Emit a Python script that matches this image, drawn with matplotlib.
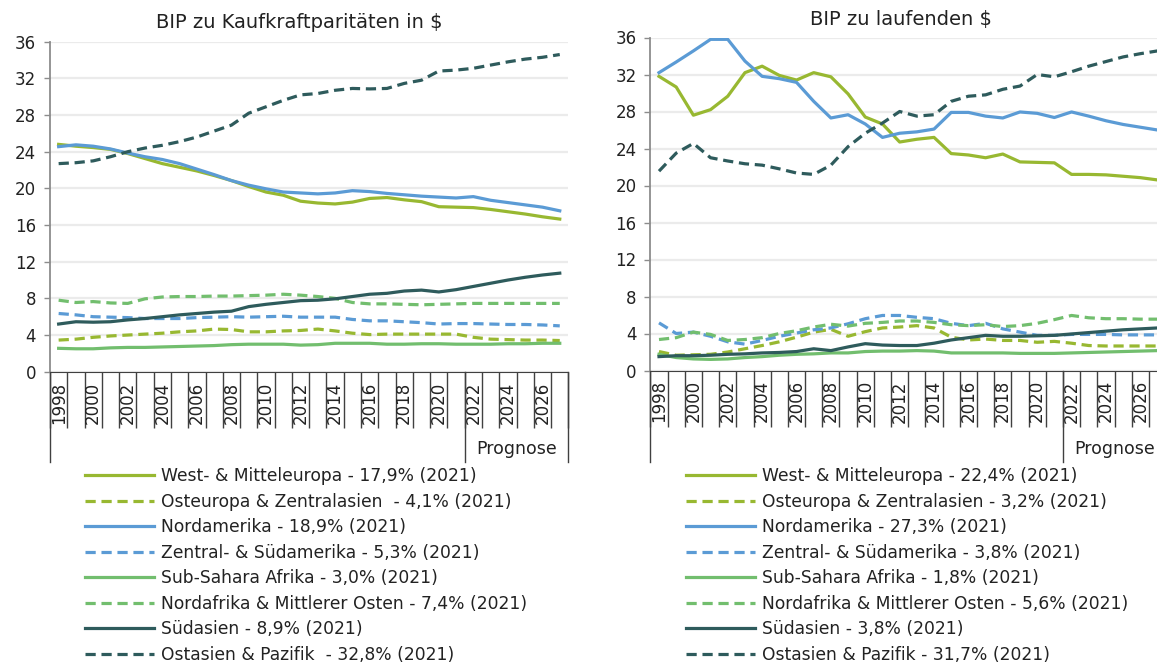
"""GDP shares of world regions: PPP vs. current dollars, 1998-2027."""

import matplotlib.pyplot as plt
from matplotlib.transforms import blended_transform_factory

years = list(range(1998, 2028))
forecast_start = 2022

# BIP zu Kaufkraftparitäten (share of world GDP in %)
ppp_west = [24.8, 24.6, 24.45, 24.25, 23.8, 23.25, 22.7, 22.3, 21.9, 21.4,
            20.85, 20.2, 19.6, 19.25, 18.6, 18.4, 18.3, 18.5, 18.9, 19.0,
            18.75, 18.55, 18.0, 17.95, 17.9, 17.7, 17.45, 17.2, 16.9, 16.65]
ppp_east = [3.45, 3.55, 3.75, 3.9, 4.0, 4.1, 4.2, 4.35, 4.45, 4.65,
            4.6, 4.35, 4.35, 4.45, 4.5, 4.65, 4.45, 4.2, 4.05, 4.1,
            4.1, 4.1, 4.1, 4.1, 3.75, 3.55, 3.5, 3.45, 3.45, 3.4]
ppp_north_am = [24.55, 24.75, 24.6, 24.3, 23.85, 23.45, 23.15, 22.7, 22.1, 21.5,
                20.85, 20.35, 19.95, 19.6, 19.5, 19.4, 19.5, 19.75, 19.65, 19.45,
                19.3, 19.15, 19.05, 18.95, 19.1, 18.7, 18.45, 18.2, 17.95, 17.55]
ppp_latam = [6.35, 6.2, 6.0, 5.95, 5.9, 5.8, 5.8, 5.8, 5.9, 5.95,
             6.0, 5.95, 6.0, 6.05, 5.95, 5.95, 5.95, 5.7, 5.55, 5.55,
             5.45, 5.35, 5.2, 5.25, 5.25, 5.2, 5.15, 5.15, 5.1, 5.0]
ppp_ssa = [2.55, 2.5, 2.5, 2.6, 2.65, 2.65, 2.7, 2.75, 2.8, 2.85,
           2.95, 3.0, 3.0, 3.0, 2.9, 2.95, 3.1, 3.1, 3.1, 3.0,
           3.0, 3.05, 3.05, 3.0, 3.0, 3.0, 3.05, 3.05, 3.1, 3.1]
ppp_mena = [7.8, 7.55, 7.65, 7.5, 7.45, 7.95, 8.15, 8.2, 8.2, 8.25,
            8.25, 8.3, 8.35, 8.45, 8.35, 8.2, 8.0, 7.55, 7.4, 7.4,
            7.35, 7.3, 7.35, 7.4, 7.45, 7.45, 7.45, 7.45, 7.45, 7.45]
ppp_south_asia = [5.2, 5.45, 5.4, 5.45, 5.65, 5.8, 6.0, 6.2, 6.35, 6.5,
                  6.6, 7.1, 7.35, 7.55, 7.75, 7.8, 7.95, 8.2, 8.45, 8.55,
                  8.8, 8.9, 8.7, 8.95, 9.3, 9.65, 10.0, 10.3, 10.55, 10.75]
ppp_east_asia = [22.7, 22.8, 23.0, 23.45, 24.0, 24.4, 24.7, 25.1, 25.6, 26.25,
                 26.9, 28.2, 28.9, 29.6, 30.2, 30.35, 30.7, 30.9, 30.85, 30.9,
                 31.45, 31.8, 32.8, 32.9, 33.1, 33.45, 33.8, 34.1, 34.3, 34.6]

# BIP zu laufenden $ (share of world GDP in %)
cur_west = [31.8, 30.65, 27.6, 28.2, 29.65, 32.2, 32.9, 31.9, 31.4, 32.2,
            31.75, 29.9, 27.4, 26.65, 24.7, 25.0, 25.2, 23.45, 23.3, 23.0,
            23.4, 22.55, 22.5, 22.45, 21.2, 21.2, 21.15, 21.0, 20.85, 20.6]
cur_east = [2.05, 1.65, 1.7, 1.75, 2.0, 2.35, 2.7, 3.1, 3.6, 4.15,
            4.45, 3.7, 4.2, 4.6, 4.7, 4.85, 4.6, 3.6, 3.3, 3.4,
            3.25, 3.25, 3.05, 3.15, 2.95, 2.7, 2.65, 2.65, 2.65, 2.65]
cur_north_am = [32.2, 33.35, 34.55, 35.8, 35.8, 33.45, 31.8, 31.55, 31.15, 29.1,
                27.3, 27.65, 26.65, 25.2, 25.65, 25.8, 26.1, 27.9, 27.9, 27.5,
                27.3, 27.95, 27.8, 27.35, 27.95, 27.5, 27.0, 26.6, 26.3, 26.0]
cur_latam = [5.15, 4.0, 4.15, 3.7, 3.1, 2.85, 3.25, 3.7, 4.05, 4.4,
             4.6, 5.05, 5.6, 5.95, 5.95, 5.75, 5.6, 5.1, 4.85, 5.1,
             4.5, 4.15, 3.8, 3.8, 3.9, 3.9, 3.9, 3.85, 3.85, 3.85]
cur_ssa = [1.75, 1.4, 1.25, 1.2, 1.25, 1.4, 1.5, 1.65, 1.75, 1.8,
           1.9, 1.9, 2.05, 2.1, 2.1, 2.15, 2.1, 1.9, 1.9, 1.9,
           1.9, 1.85, 1.85, 1.85, 1.9, 1.95, 2.0, 2.05, 2.1, 2.15]
cur_mena = [3.35, 3.55, 4.15, 3.9, 3.25, 3.35, 3.55, 4.0, 4.3, 4.7,
            5.0, 4.8, 5.1, 5.2, 5.35, 5.35, 5.2, 4.95, 4.85, 4.95,
            4.75, 4.85, 5.1, 5.5, 5.95, 5.7, 5.6, 5.6, 5.55, 5.55]
cur_south_asia = [1.5, 1.6, 1.6, 1.65, 1.75, 1.8, 1.9, 1.95, 2.05, 2.35,
                  2.15, 2.55, 2.9, 2.75, 2.7, 2.7, 2.95, 3.3, 3.55, 3.8,
                  3.7, 3.7, 3.75, 3.8, 3.95, 4.1, 4.25, 4.4, 4.5, 4.6]
cur_east_asia = [21.55, 23.5, 24.55, 23.0, 22.65, 22.35, 22.2, 21.8, 21.35, 21.2,
                 22.2, 24.2, 25.65, 26.75, 28.0, 27.5, 27.65, 29.1, 29.65, 29.8,
                 30.4, 30.75, 32.0, 31.75, 32.3, 32.9, 33.4, 33.9, 34.25, 34.55]

ppp_labels = [
    "West- & Mitteleuropa - 17,9% (2021)",
    "Osteuropa & Zentralasien  - 4,1% (2021)",
    "Nordamerika - 18,9% (2021)",
    "Zentral- & Südamerika - 5,3% (2021)",
    "Sub-Sahara Afrika - 3,0% (2021)",
    "Nordafrika & Mittlerer Osten - 7,4% (2021)",
    "Südasien - 8,9% (2021)",
    "Ostasien & Pazifik  - 32,8% (2021)",
]
cur_labels = [
    "West- & Mitteleuropa - 22,4% (2021)",
    "Osteuropa & Zentralasien - 3,2% (2021)",
    "Nordamerika - 27,3% (2021)",
    "Zentral- & Südamerika - 3,8% (2021)",
    "Sub-Sahara Afrika - 1,8% (2021)",
    "Nordafrika & Mittlerer Osten - 5,6% (2021)",
    "Südasien - 3,8% (2021)",
    "Ostasien & Pazifik - 31,7% (2021)",
]

colors = ["#98B831", "#98B831", "#5B9BD5", "#5B9BD5",
          "#72BE6E", "#72BE6E", "#2E5B5C", "#2E5B5C"]
dashed = [False, True, False, True, False, True, False, True]

TEXT = "#222222"
W, H = 1157, 663


def px_rect(x0, y_top, x1, y_bottom):
    return [x0 / W, 1 - y_bottom / H, (x1 - x0) / W, (y_bottom - y_top) / H]


def draw_panel(fig, rect, title, title_xy, series, labels, legend_xy):
    ax = fig.add_axes(rect)
    x = [i + 0.5 for i in range(len(years))]
    for values, label, color, is_dashed in zip(series, labels, colors, dashed):
        if is_dashed:
            ax.plot(x, values, color=color, lw=2.3, label=label, dashes=(3.2, 1.8))
        else:
            ax.plot(x, values, color=color, lw=2.3, label=label)

    ax.set_xlim(0, len(years))
    ax.set_ylim(0, 36)
    ax.set_yticks(range(0, 37, 4))
    ax.grid(axis="y", color="#EBEBEB", lw=1.6)
    ax.set_axisbelow(True)
    ax.spines["top"].set_visible(False)
    ax.spines["right"].set_visible(False)
    ax.spines["left"].set_color("#8C8C8C")
    ax.spines["left"].set_linewidth(1.3)
    ax.spines["bottom"].set_color("#404040")
    ax.tick_params(axis="y", length=4, width=1, color="#8C8C8C", pad=6,
                   labelsize=12, labelcolor=TEXT)

    # two-level category axis: years, then the forecast group
    ax.set_xticks(range(len(years) + 1))
    ax.set_xticklabels([])
    ax.tick_params(axis="x", which="major", length=40, width=1, color="#404040")
    ax.set_xticks(x, [str(y) if y % 2 == 0 else "" for y in years], minor=True)
    ax.tick_params(axis="x", which="minor", length=0, pad=7, labelsize=12,
                   labelrotation=90, labelcolor=TEXT)
    split = years.index(forecast_start)
    for pos in (0, split, len(years)):
        ax.axvline(pos, ymin=-0.275, ymax=0, color="#404040", lw=1, clip_on=False)
    trans = blended_transform_factory(ax.transData, ax.transAxes)
    ax.text((split + len(years)) / 2, -0.235, "Prognose", transform=trans,
            ha="center", va="center", fontsize=12.5, color=TEXT)

    fig.text(title_xy[0] / W, 1 - title_xy[1] / H, title, ha="center",
             va="center", fontsize=14, color=TEXT)
    ax.legend(loc="upper left", bbox_to_anchor=(legend_xy[0] / W, 1 - legend_xy[1] / H),
              bbox_transform=fig.transFigure, frameon=False, fontsize=12.3,
              handlelength=4.04, handletextpad=0.41, labelspacing=0.44,
              borderpad=0, borderaxespad=0, labelcolor=TEXT)
    return ax


def main() -> None:
    fig = plt.figure(figsize=(W / 100, H / 100), dpi=100)

    draw_panel(
        fig, px_rect(50, 41.7, 568.4, 371.7), "BIP zu Kaufkraftparitäten in $", (299, 22),
        [ppp_west, ppp_east, ppp_north_am, ppp_latam,
         ppp_ssa, ppp_mena, ppp_south_asia, ppp_east_asia],
        ppp_labels, (85, 467),
    )
    draw_panel(
        fig, px_rect(650.4, 37.5, 1166.1, 370.5), "BIP zu laufenden $", (901, 20),
        [cur_west, cur_east, cur_north_am, cur_latam,
         cur_ssa, cur_mena, cur_south_asia, cur_east_asia],
        cur_labels, (685.5, 467),
    )

    fig.savefig("out.png", dpi=100)


if __name__ == "__main__":
    main()
